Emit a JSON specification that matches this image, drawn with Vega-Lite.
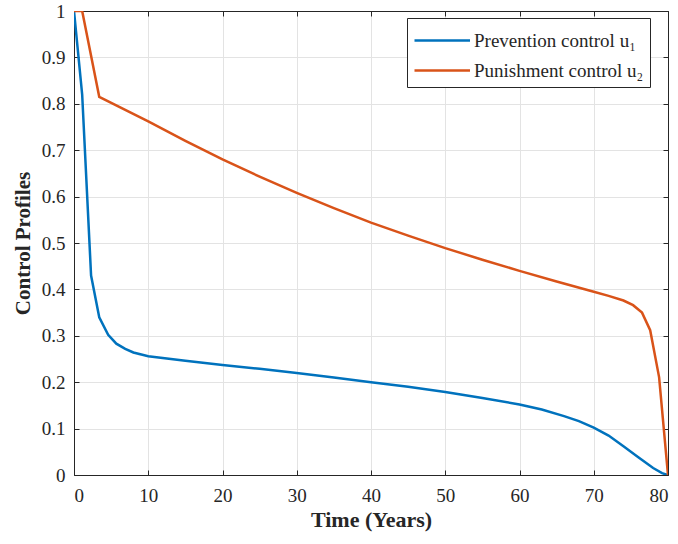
{
  "$schema": "https://vega.github.io/schema/vega-lite/v6.json",
  "width": 594,
  "height": 464,
  "autosize": {"type": "none"},
  "padding": {"left": 74, "top": 11, "right": 10, "bottom": 69},
  "background": "white",
  "config": {
    "font": "Liberation Serif",
    "view": {"stroke": "#262626", "strokeWidth": 1}
  },
  "data": {
    "values": [
      {"t": 0, "v": 1.0, "s": "Prevention control u₁"},
      {"t": 1.1, "v": 0.82, "s": "Prevention control u₁"},
      {"t": 2.3, "v": 0.43, "s": "Prevention control u₁"},
      {"t": 3.4, "v": 0.34, "s": "Prevention control u₁"},
      {"t": 4.6, "v": 0.302, "s": "Prevention control u₁"},
      {"t": 5.7, "v": 0.283, "s": "Prevention control u₁"},
      {"t": 6.9, "v": 0.272, "s": "Prevention control u₁"},
      {"t": 8.0, "v": 0.264, "s": "Prevention control u₁"},
      {"t": 10, "v": 0.256, "s": "Prevention control u₁"},
      {"t": 15, "v": 0.246, "s": "Prevention control u₁"},
      {"t": 20, "v": 0.237, "s": "Prevention control u₁"},
      {"t": 25, "v": 0.229, "s": "Prevention control u₁"},
      {"t": 30, "v": 0.22, "s": "Prevention control u₁"},
      {"t": 35, "v": 0.21, "s": "Prevention control u₁"},
      {"t": 40, "v": 0.2, "s": "Prevention control u₁"},
      {"t": 45, "v": 0.19, "s": "Prevention control u₁"},
      {"t": 50, "v": 0.179, "s": "Prevention control u₁"},
      {"t": 55, "v": 0.166, "s": "Prevention control u₁"},
      {"t": 60, "v": 0.152, "s": "Prevention control u₁"},
      {"t": 63, "v": 0.141, "s": "Prevention control u₁"},
      {"t": 66, "v": 0.127, "s": "Prevention control u₁"},
      {"t": 68, "v": 0.116, "s": "Prevention control u₁"},
      {"t": 70, "v": 0.102, "s": "Prevention control u₁"},
      {"t": 72, "v": 0.085, "s": "Prevention control u₁"},
      {"t": 74, "v": 0.062, "s": "Prevention control u₁"},
      {"t": 76, "v": 0.038, "s": "Prevention control u₁"},
      {"t": 78, "v": 0.015, "s": "Prevention control u₁"},
      {"t": 79.2, "v": 0.004, "s": "Prevention control u₁"},
      {"t": 80, "v": 0.0, "s": "Prevention control u₁"},
      {"t": 0, "v": 1.0, "s": "Punishment control u₂"},
      {"t": 1.1, "v": 1.0, "s": "Punishment control u₂"},
      {"t": 3.4, "v": 0.815, "s": "Punishment control u₂"},
      {"t": 10, "v": 0.762, "s": "Punishment control u₂"},
      {"t": 15, "v": 0.72, "s": "Punishment control u₂"},
      {"t": 20, "v": 0.68, "s": "Punishment control u₂"},
      {"t": 25, "v": 0.643, "s": "Punishment control u₂"},
      {"t": 30, "v": 0.608, "s": "Punishment control u₂"},
      {"t": 35, "v": 0.575, "s": "Punishment control u₂"},
      {"t": 40, "v": 0.544, "s": "Punishment control u₂"},
      {"t": 45, "v": 0.516, "s": "Punishment control u₂"},
      {"t": 50, "v": 0.489, "s": "Punishment control u₂"},
      {"t": 55, "v": 0.464, "s": "Punishment control u₂"},
      {"t": 60, "v": 0.44, "s": "Punishment control u₂"},
      {"t": 65, "v": 0.417, "s": "Punishment control u₂"},
      {"t": 70, "v": 0.395, "s": "Punishment control u₂"},
      {"t": 72, "v": 0.386, "s": "Punishment control u₂"},
      {"t": 74, "v": 0.376, "s": "Punishment control u₂"},
      {"t": 75.3, "v": 0.366, "s": "Punishment control u₂"},
      {"t": 76.5, "v": 0.35, "s": "Punishment control u₂"},
      {"t": 77.6, "v": 0.312, "s": "Punishment control u₂"},
      {"t": 78.8, "v": 0.211, "s": "Punishment control u₂"},
      {"t": 80, "v": 0.0, "s": "Punishment control u₂"}
    ]
  },
  "resolve": {"axis": {"x": "independent", "y": "independent"}},
  "layer": [
    {
      "mark": {"type": "line", "strokeWidth": 2.5, "clip": true},
      "encoding": {
        "x": {
          "field": "t", "type": "quantitative",
          "scale": {"domain": [0, 80], "nice": false},
          "axis": {
            "title": "Time (Years)", "values": [0,10,20,30,40,50,60,70,80],
            "titleFontSize": 22, "titleFontWeight": "bold", "titleColor": "#262626",
            "labelFontSize": 19, "labelColor": "#262626",
            "labelPadding": 16, "titlePadding": 4,
            "tickSize": -5, "tickColor": "#262626", "domainColor": "#262626",
            "gridColor": "#e3e3e3", "gridWidth": 1
          }
        },
        "y": {
          "field": "v", "type": "quantitative",
          "scale": {"domain": [0, 1], "nice": false},
          "axis": {
            "title": "Control Profiles", "values": [0,0.1,0.2,0.3,0.4,0.5,0.6,0.7,0.8,0.9,1],
            "format": "~g",
            "titleFontSize": 21, "titleFontWeight": "bold", "titleColor": "#262626",
            "labelFontSize": 19, "labelColor": "#262626",
            "labelPadding": 14, "titlePadding": 8,
            "tickSize": -5, "tickColor": "#262626", "domainColor": "#262626",
            "gridColor": "#e3e3e3", "gridWidth": 1
          }
        },
        "color": {
          "field": "s", "type": "nominal",
          "scale": {"domain": ["Prevention control u₁", "Punishment control u₂"], "range": ["#0072BD", "#D95319"]},
          "legend": {
            "title": null, "orient": "none", "legendX": 333, "legendY": 7,
            "symbolType": "M-1,0H2.7", "symbolSize": 900, "symbolStrokeWidth": 2.5,
            "labelFontSize": 19, "labelColor": "#262626", "labelLimit": 400,
            "labelOffset": 28, "rowPadding": 3,
            "fillColor": "white", "strokeColor": "#262626", "padding": 6
          }
        }
      }
    },
    {
      "mark": {"type": "line", "opacity": 0},
      "encoding": {
        "x": {
          "field": "t", "type": "quantitative",
          "scale": {"domain": [0, 80], "nice": false},
          "axis": {"orient": "top", "title": null, "labels": false, "grid": false, "values": [0,10,20,30,40,50,60,70,80], "tickSize": -5, "tickColor": "#262626", "domainColor": "#262626"}
        },
        "y": {
          "field": "v", "type": "quantitative",
          "scale": {"domain": [0, 1], "nice": false},
          "axis": {"orient": "right", "title": null, "labels": false, "grid": false, "values": [0,0.1,0.2,0.3,0.4,0.5,0.6,0.7,0.8,0.9,1], "tickSize": -5, "tickColor": "#262626", "domainColor": "#262626"}
        },
        "detail": {"field": "s", "type": "nominal"}
      }
    }
  ]
}
